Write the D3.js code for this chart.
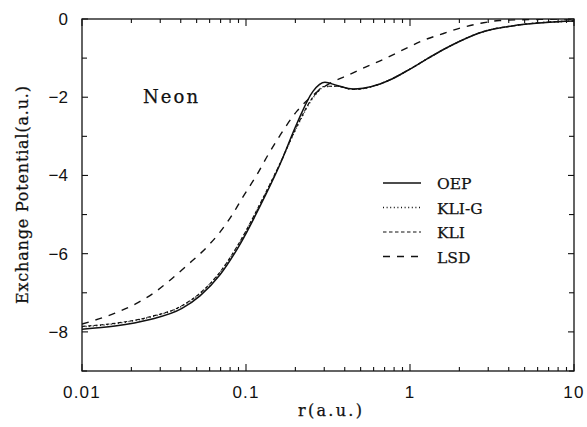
<!DOCTYPE html>
<html>
<head>
<meta charset="utf-8">
<script src="https://cdn.jsdelivr.net/npm/d3@7"></script>
<style>
  body { margin: 0; background: #fff; }
  svg { display: block; }
  .tw { font-family: "DejaVu Serif", "Liberation Serif", serif; fill: #111; stroke: #111; stroke-width: 0.25px; }
  .num { font-family: "Liberation Sans", Arial, sans-serif; fill: #111; }
</style>
</head>
<body>
<div id="chart"></div>
<script>
// r (a.u.) and exchange potential (a.u.)
var rOEP = [0.01, 0.0159, 0.0256, 0.0407, 0.0524, 0.0694, 0.0919, 0.122, 0.161, 0.205, 0.256, 0.303, 0.359, 0.449, 0.517, 0.656, 0.787, 1.0, 1.27, 1.6, 1.94, 2.67, 4.69, 10];
var vOEP = [-7.93, -7.85, -7.69, -7.40, -7.08, -6.54, -5.76, -4.78, -3.72, -2.66, -1.85, -1.62, -1.70, -1.79, -1.77, -1.66, -1.52, -1.28, -1.02, -0.78, -0.60, -0.35, -0.15, -0.05];
var vKLIG = [-7.87, -7.79, -7.63, -7.34, -7.02, -6.48, -5.70, -4.73, -3.70, -2.75, -2.02, -1.73, -1.72, -1.80, -1.78, -1.66, -1.52, -1.28, -1.02, -0.78, -0.60, -0.35, -0.15, -0.05];
var vKLI  = [-7.86, -7.78, -7.62, -7.33, -7.01, -6.47, -5.69, -4.72, -3.70, -2.73, -2.00, -1.72, -1.72, -1.80, -1.78, -1.66, -1.52, -1.28, -1.02, -0.78, -0.60, -0.35, -0.15, -0.05];
var rLSD = [0.01, 0.0159, 0.0211, 0.0275, 0.0344, 0.0437, 0.0578, 0.0694, 0.0832, 0.0958, 0.1166, 0.136, 0.161, 0.205, 0.256, 0.326, 0.416, 0.57, 0.68, 0.96, 1.2, 1.6, 2.03, 2.7, 3.5, 6.2, 10];
var vLSD = [-7.80, -7.52, -7.29, -7.00, -6.68, -6.30, -5.83, -5.45, -4.98, -4.55, -3.98, -3.48, -2.98, -2.35, -1.95, -1.64, -1.44, -1.18, -1.04, -0.74, -0.55, -0.37, -0.23, -0.11, -0.04, -0.01, 0];

var xTicks = [0.01, 0.1, 1, 10];
var xTickLabels = ["0.01", "0.1", "1", "10"];
var yTicks = [0, -2, -4, -6, -8];
var legendNames = ["OEP", "KLI-G", "KLI", "LSD"];

var W = 587, H = 427;
var margin = {left: 82, right: 13, top: 19, bottom: 56};

var svg = d3.select("#chart").append("svg")
    .attr("width", W)
    .attr("height", H);

var x = d3.scaleLog().domain([0.01, 10]).range([margin.left, W - margin.right]);
var y = d3.scaleLinear().domain([-9, 0]).range([H - margin.bottom, margin.top]);

// styles for each curve
var dash = {
  "OEP": null,
  "KLI-G": "1,2.6",
  "KLI": "3.5,2.5",
  "LSD": "7,7"
};
var series = [
  {name: "OEP", r: rOEP, v: vOEP, w: 1.5},
  {name: "KLI-G", r: rOEP, v: vKLIG, w: 1.4},
  {name: "KLI", r: rOEP, v: vKLI, w: 1.2},
  {name: "LSD", r: rLSD, v: vLSD, w: 1.4}
];

var line = d3.line()
    .x(function(d) { return x(d[0]); })
    .y(function(d) { return y(d[1]); })
    .curve(d3.curveMonotoneX);

svg.append("defs").append("clipPath").attr("id", "clip")
  .append("rect")
    .attr("x", margin.left).attr("y", margin.top)
    .attr("width", W - margin.left - margin.right)
    .attr("height", H - margin.top - margin.bottom);

var g = svg.append("g").attr("clip-path", "url(#clip)");
series.forEach(function(s) {
  var pts = s.r.map(function(r, i) { return [r, s.v[i]]; });
  g.append("path")
      .datum(pts)
      .attr("d", line)
      .attr("fill", "none")
      .attr("stroke", "#111")
      .attr("stroke-width", s.w)
      .attr("stroke-dasharray", dash[s.name]);
});

// frame
svg.append("rect")
    .attr("x", margin.left).attr("y", margin.top)
    .attr("width", W - margin.left - margin.right)
    .attr("height", H - margin.top - margin.bottom)
    .attr("fill", "none")
    .attr("stroke", "#111")
    .attr("stroke-width", 1.3);

// x ticks, inside, top and bottom
var xMinor = [];
[0.01, 0.1, 1].forEach(function(dec) {
  for (var k = 2; k <= 9; k++) xMinor.push(dec * k);
});
var y0 = y(-9), y1 = y(0);
xTicks.concat(xMinor).forEach(function(t) {
  var major = xTicks.indexOf(t) >= 0;
  var len = major ? 7 : 4;
  svg.append("line").attr("x1", x(t)).attr("x2", x(t)).attr("y1", y0).attr("y2", y0 - len)
      .attr("stroke", "#111").attr("stroke-width", 1.1);
  svg.append("line").attr("x1", x(t)).attr("x2", x(t)).attr("y1", y1).attr("y2", y1 + len)
      .attr("stroke", "#111").attr("stroke-width", 1.1);
});

// y ticks, every unit, left and right
var xl = x(0.01), xr = x(10);
d3.range(-9, 1).forEach(function(t) {
  var len = (t % 2 === 0) ? 6 : 5;
  svg.append("line").attr("x1", xl).attr("x2", xl + len).attr("y1", y(t)).attr("y2", y(t))
      .attr("stroke", "#111").attr("stroke-width", 1.1);
  svg.append("line").attr("x1", xr).attr("x2", xr - len).attr("y1", y(t)).attr("y2", y(t))
      .attr("stroke", "#111").attr("stroke-width", 1.1);
});

// tick labels
svg.selectAll(".xlab").data(xTicks).enter().append("text")
    .attr("class", "num")
    .attr("x", function(d) { return x(d); })
    .attr("y", 398)
    .attr("text-anchor", "middle")
    .style("font-size", "17px")
    .style("letter-spacing", "1.2px")
    .text(function(d, i) { return xTickLabels[i]; });

svg.selectAll(".ylab").data(yTicks).enter().append("text")
    .attr("class", "num")
    .attr("x", 68)
    .attr("y", function(d) { return y(d) + 6; })
    .attr("text-anchor", "end")
    .style("font-size", "17px")
    .text(function(d) { return d === 0 ? "0" : "\u2212" + Math.abs(d); });

// axis titles
svg.append("text")
    .attr("class", "tw")
    .attr("x", 298).attr("y", 416)
    .attr("textLength", 64)
    .style("font-size", "16px")
    .text("r(a.u.)");

svg.append("text")
    .attr("class", "tw")
    .attr("transform", "translate(28,304) rotate(-90)")
    .attr("textLength", 218)
    .style("font-size", "16px")
    .text("Exchange Potential(a.u.)");

svg.append("text")
    .attr("class", "tw")
    .attr("x", 143).attr("y", 103)
    .attr("textLength", 55)
    .style("font-size", "18px")
    .text("Neon");

// legend
var lg = svg.append("g").selectAll("g").data(series).enter().append("g")
    .attr("transform", function(d, i) { return "translate(383," + (183 + i * 24.5) + ")"; });
lg.append("line")
    .attr("x1", 0).attr("x2", 38)
    .attr("stroke", "#111")
    .attr("stroke-width", function(d) { return d.w; })
    .attr("stroke-dasharray", function(d) { return dash[d.name]; });
lg.append("text")
    .attr("class", "tw")
    .attr("x", 54).attr("y", 6)
    .style("font-size", "15.5px")
    .text(function(d, i) { return legendNames[i]; });
</script>
</body>
</html>
